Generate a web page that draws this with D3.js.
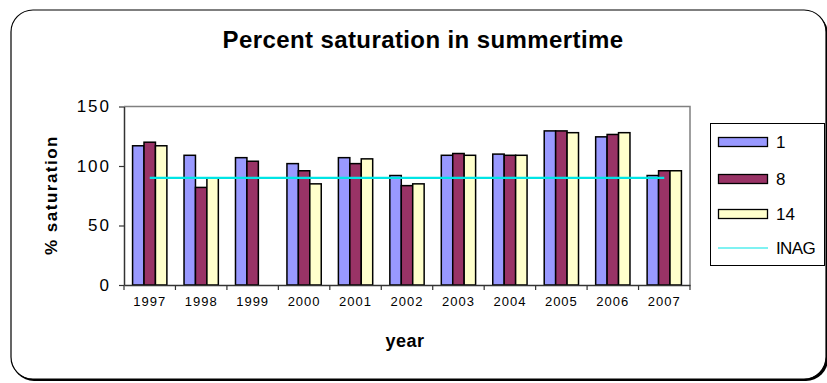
<!DOCTYPE html>
<html>
<head>
<meta charset="utf-8">
<script src="https://cdn.jsdelivr.net/npm/d3@7"></script>
<style>
  html, body { margin: 0; padding: 0; background: #fff; }
  svg { display: block; font-family: "Liberation Sans", Arial, sans-serif; }
</style>
</head>
<body>
<svg id="chart" width="827" height="383"></svg>
<script>
// Years on the category axis
const years = ["1997", "1998", "1999", "2000", "2001", "2002", "2003", "2004", "2005", "2006", "2007"];
// Percent saturation per station (null = no measurement)
const station1  = [117, 109, 107, 102, 107, 92, 109, 110, 129.5, 124.5, 92];
const station8  = [120, 82, 104, 96, 102, 83.5, 110.5, 109, 129.5, 126.5, 96];
const station14 = [117, 90, null, 85, 106, 85, 109, 109, 128, 128, 96];
// INAG reference level
const inagLevel = 90;
const yTicks = [0, 50, 100, 150];

const seriesNames = ["1", "8", "14"];
const seriesValues = [station1, station8, station14];
const seriesColors = ["#9999FF", "#993366", "#FFFFCC"];

const svg = d3.select("#chart");

// Outer rounded frame with a slight shadow on the bottom edge
svg.append("rect")
  .attr("x", 12).attr("y", 12).attr("width", 816).attr("height", 369)
  .attr("rx", 22).attr("fill", "#000");
svg.append("rect")
  .attr("x", 11).attr("y", 10).attr("width", 815).attr("height", 369)
  .attr("rx", 22).attr("fill", "#fff").attr("stroke", "#000").attr("stroke-width", 1.2);

const plot = { left: 124, right: 690, top: 106.5, bottom: 285 };

const x = d3.scaleBand().domain(years).range([plot.left, plot.right]).paddingInner(0).paddingOuter(0);
const y = d3.scaleLinear().domain([0, 150]).range([plot.bottom, plot.top]);

// Bars take 3/4.5 of each category (150% gap)
const groupW = x.bandwidth() * 3 / 4.5;
const xs = d3.scaleBand().domain(seriesNames).range([0, groupW]).padding(0);

// Plot-area border (grey on top/right)
svg.append("path")
  .attr("d", `M${plot.left},${plot.top}H${plot.right}V${plot.bottom}`)
  .attr("fill", "none").attr("stroke", "#808080").attr("stroke-width", 1.5);

// Bars
seriesValues.forEach((vals, si) => {
  svg.append("g").selectAll("rect")
    .data(years.map((yr, i) => ({ yr, v: vals[i] })).filter(d => d.v != null))
    .join("rect")
    .attr("x", d => x(d.yr) + (x.bandwidth() - groupW) / 2 + xs(seriesNames[si]))
    .attr("y", d => y(d.v))
    .attr("width", xs.bandwidth())
    .attr("height", d => y(0) - y(d.v))
    .attr("fill", seriesColors[si])
    .attr("stroke", "#000").attr("stroke-width", 1.5);
});

// INAG line from first to last category centre
svg.append("line")
  .attr("x1", x(years[0]) + x.bandwidth() / 2)
  .attr("x2", x(years[years.length - 1]) + x.bandwidth() / 2)
  .attr("y1", y(inagLevel)).attr("y2", y(inagLevel))
  .attr("stroke", "#00E5E5").attr("stroke-width", 2.2);

// Y axis
const yAxis = svg.append("g")
  .attr("transform", `translate(${plot.left},0)`)
  .call(d3.axisLeft(y).tickValues(yTicks).tickSize(5).tickPadding(8).tickSizeOuter(0));
yAxis.select(".domain").attr("stroke", "#333").attr("stroke-width", 1.5);
yAxis.selectAll(".tick line").attr("stroke", "#333").attr("stroke-width", 1.2);
yAxis.selectAll(".tick text").attr("font-size", 17).attr("letter-spacing", 2).attr("fill", "#000")
  .attr("font-family", "Liberation Sans, Arial, sans-serif");

// X axis: ticks on category boundaries
const xAxis = svg.append("g")
  .attr("transform", `translate(0,${plot.bottom})`)
  .call(d3.axisBottom(x).tickSize(0).tickPadding(12));
xAxis.select(".domain").attr("stroke", "#333").attr("stroke-width", 1.5);
xAxis.selectAll(".tick text").attr("font-size", 13).attr("letter-spacing", 1).attr("fill", "#000")
  .attr("font-family", "Liberation Sans, Arial, sans-serif");
xAxis.selectAll(".boundary")
  .data(d3.range(years.length + 1))
  .join("line")
  .attr("x1", i => plot.left + i * x.step()).attr("x2", i => plot.left + i * x.step())
  .attr("y1", 0).attr("y2", 5)
  .attr("stroke", "#333").attr("stroke-width", 1.2);

// Title and axis titles
svg.append("text")
  .attr("x", 423).attr("y", 48).attr("text-anchor", "middle")
  .attr("font-size", 24).attr("font-weight", "bold").attr("letter-spacing", 0.4)
  .text("Percent saturation in summertime");
svg.append("text")
  .attr("transform", "translate(57,195) rotate(-90)")
  .attr("text-anchor", "middle")
  .attr("font-size", 17).attr("font-weight", "bold").attr("letter-spacing", 1.5)
  .text("% saturation");
svg.append("text")
  .attr("x", 405).attr("y", 347).attr("text-anchor", "middle")
  .attr("font-size", 18).attr("font-weight", "bold").attr("letter-spacing", 0.5)
  .text("year");

// Legend
const legend = svg.append("g");
legend.append("rect")
  .attr("x", 710.5).attr("y", 123.5).attr("width", 114).attr("height", 142)
  .attr("fill", "#fff").attr("stroke", "#000").attr("stroke-width", 1);
const legendRows = [142, 179, 214, 248];
seriesNames.forEach((name, i) => {
  legend.append("rect")
    .attr("x", 718.5).attr("y", legendRows[i] - 4.5).attr("width", 49).attr("height", 9)
    .attr("fill", seriesColors[i]).attr("stroke", "#000").attr("stroke-width", 1.3);
  legend.append("text")
    .attr("x", 776).attr("y", legendRows[i]).attr("dy", "0.35em")
    .attr("font-size", 17).text(name);
});
legend.append("line")
  .attr("x1", 718).attr("x2", 768).attr("y1", legendRows[3]).attr("y2", legendRows[3])
  .attr("stroke", "#00E5E5").attr("stroke-width", 1.2);
legend.append("text")
  .attr("x", 776).attr("y", legendRows[3]).attr("dy", "0.35em")
  .attr("font-size", 17).attr("letter-spacing", -0.6).text("INAG");
</script>
</body>
</html>
